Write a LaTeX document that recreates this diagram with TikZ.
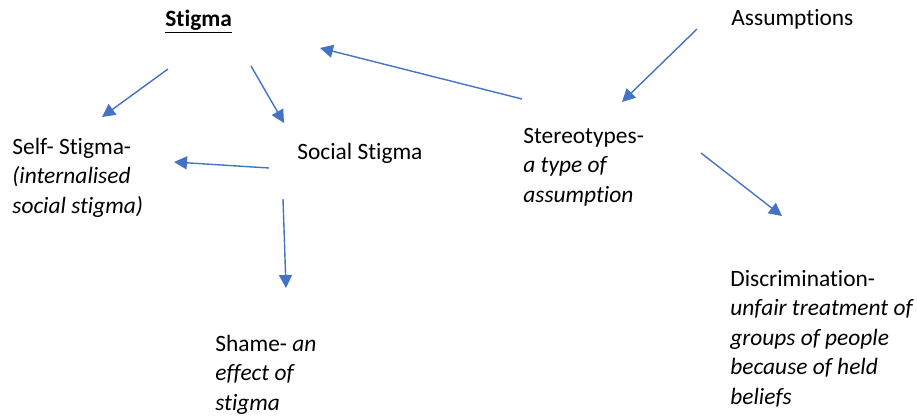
\documentclass[tikz,border=0pt]{standalone}
\usepackage{fontspec}
\setmainfont{Carlito}[Ligatures={NoCommon}]
\usetikzlibrary{arrows.meta,positioning}
\definecolor{linkblue}{HTML}{4472C4}

\tikzset{
    conceptText/.style={anchor=base west, inner sep=0pt, align=left,
        font=\fontsize{11.7}{14.75}\selectfont},
    link/.style={draw=linkblue, line width=0.7pt,
        -{Triangle[length=6.5pt,width=6.5pt]}},
}

\begin{document}
\begin{tikzpicture}[x=0.5pt,y=-0.5pt]
    \useasboundingbox (0,0) rectangle (917,418);
    % concepts (anchored on the baseline of their last line)
    \node[conceptText] (stigma) at (165,26) {\underline{\textbf{Stigma}}};
    \node[conceptText] (assumptions) at (731,25) {Assumptions};
    \node[conceptText] (selfStigma) at (12,213) {Self- Stigma-\\\textit{(internalised}\\\textit{social stigma)}};
    \node[conceptText] (socialStigma) at (297,159) {Social Stigma};
    \node[conceptText] (stereotypes) at (523,202) {Stereotypes-\\\textit{a type of}\\\textit{assumption}};
    \node[conceptText] (shame) at (215,410) {Shame- \textit{an}\\\textit{effect of}\\\textit{stigma}};
    \node[conceptText] (discrimination) at (730,404) {Discrimination-\\\textit{unfair treatment of}\\\textit{groups of people}\\\textit{because of held}\\\textit{beliefs}};
    % arrow ends
    \coordinate (stigmaOutL) at (168,69);
    \coordinate (selfIn) at (102,117);
    \coordinate (stigmaOutR) at (251,66);
    \coordinate (socialIn) at (284,123);
    \coordinate (socialOutL) at (269,168);
    \coordinate (selfInR) at (174,162);
    \coordinate (stereoOut) at (522,99);
    \coordinate (stigmaIn) at (320,48);
    \coordinate (assumOut) at (697,29);
    \coordinate (stereoIn) at (622,102);
    \coordinate (stereoOutR) at (701,153);
    \coordinate (discrimIn) at (782,216);
    \coordinate (socialOutD) at (283,199);
    \coordinate (shameIn) at (286,288);
    % links
    \draw[link] (stigmaOutL) -- (selfIn);
    \draw[link] (stigmaOutR) -- (socialIn);
    \draw[link] (socialOutL) -- (selfInR);
    \draw[link] (stereoOut) -- (stigmaIn);
    \draw[link] (assumOut) -- (stereoIn);
    \draw[link] (stereoOutR) -- (discrimIn);
    \draw[link] (socialOutD) -- (shameIn);
\end{tikzpicture}
\end{document}
